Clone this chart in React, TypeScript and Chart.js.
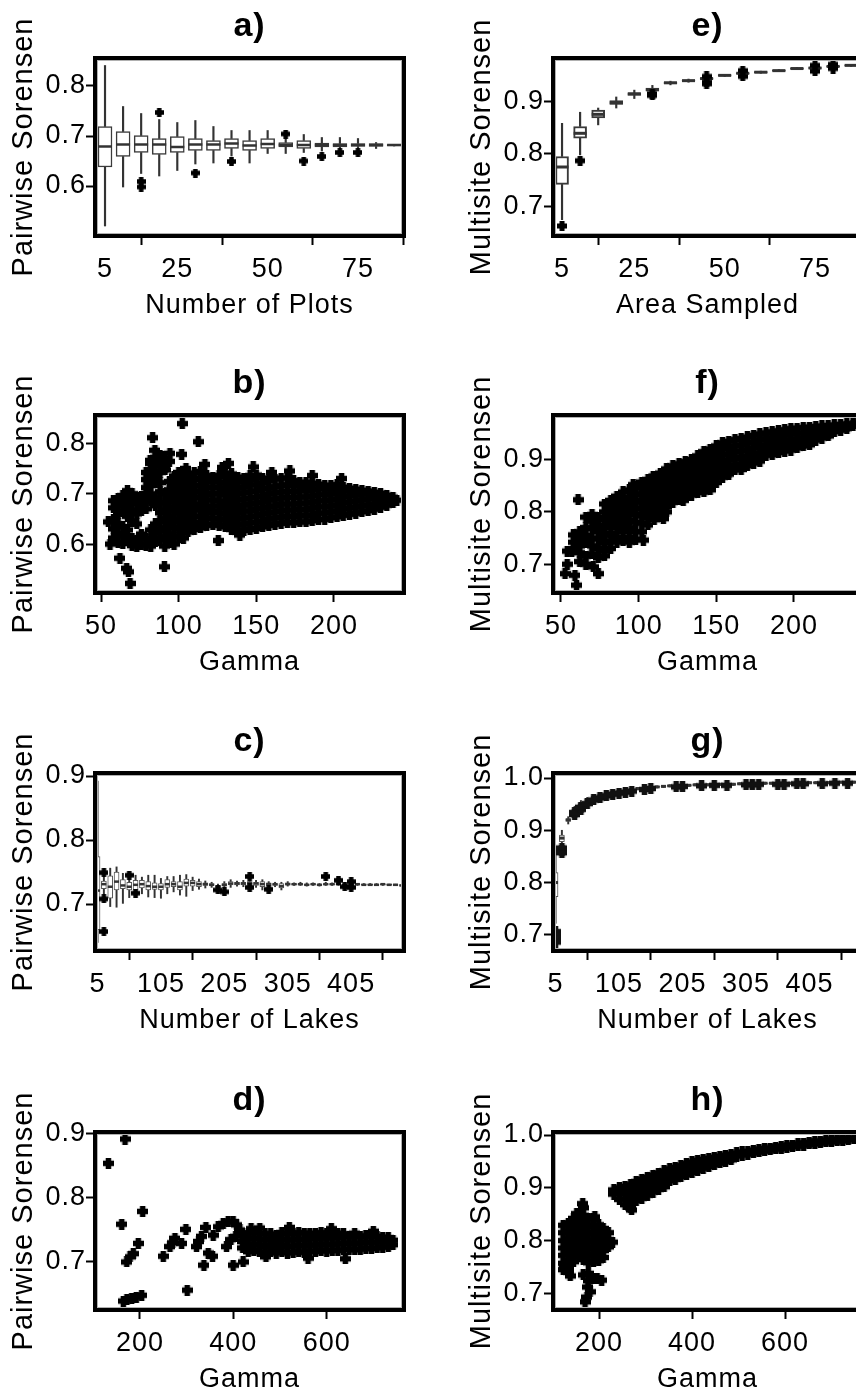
import React, { useEffect, useRef } from "react";
import { Chart, registerables } from "chart.js";
Chart.register(...registerables);

const FONT = "'Liberation Sans', Arial, Helvetica, sans-serif";
Chart.defaults.font.family = FONT;
Chart.defaults.color = "#000";

// ---------------- Tick labels ----------------
const ticksPlots = [5, 25, 50, 75];
const ticksGammaB = [50, 100, 150, 200];
const ticksLakes = [5, 105, 205, 305, 405];
const ticksGammaD = [200, 400, 600];
const ticksPairAB = [0.6, 0.7, 0.8];
const ticksPairCD = [0.7, 0.8, 0.9];
const ticksMultiEF = [0.7, 0.8, 0.9];
const ticksMultiGH = [0.7, 0.8, 0.9, 1.0];

// ---------------- a) Pairwise vs Number of Plots ----------------
const plotCounts = [5, 10, 15, 20, 25, 30, 35, 40, 45, 50, 55, 60, 65, 70, 75, 80, 85];
const aLow = [0.520, 0.598, 0.625, 0.620, 0.631, 0.644, 0.646, 0.660, 0.646, 0.665, 0.665, 0.667, 0.670, 0.673, 0.673, 0.675, 0.680];
const aQ1 = [0.638, 0.659, 0.667, 0.663, 0.667, 0.671, 0.671, 0.675, 0.671, 0.675, 0.678, 0.675, 0.678, 0.678, 0.679, 0.679, 0.680];
const aMed = [0.679, 0.683, 0.683, 0.683, 0.678, 0.683, 0.683, 0.685, 0.681, 0.684, 0.682, 0.682, 0.682, 0.682, 0.682, 0.682, 0.682];
const aQ3 = [0.719, 0.709, 0.701, 0.695, 0.699, 0.695, 0.691, 0.695, 0.691, 0.695, 0.687, 0.691, 0.686, 0.685, 0.685, 0.685, 0.683];
const aHigh = [0.841, 0.759, 0.745, 0.733, 0.727, 0.731, 0.719, 0.711, 0.711, 0.711, 0.699, 0.703, 0.697, 0.697, 0.695, 0.687, 0.683];
const aOutX = [15, 15, 20, 30, 40, 55, 60, 65, 70, 75];
const aOutY = [0.609, 0.598, 0.747, 0.626, 0.649, 0.704, 0.650, 0.659, 0.667, 0.667];

// ---------------- e) Multisite vs Area Sampled ----------------
const areaSampled = [5, 10, 15, 20, 25, 30, 35, 40, 45, 50, 55, 60, 65, 70, 75, 80, 85];
const eLow = [0.675, 0.798, 0.855, 0.887, 0.905, 0.916, 0.931, 0.936, 0.940, 0.947, 0.950, 0.953, 0.957, 0.960, 0.961, 0.964, 0.966];
const eQ1 = [0.742, 0.830, 0.868, 0.894, 0.911, 0.919, 0.933, 0.938, 0.942, 0.948, 0.952, 0.954, 0.957, 0.961, 0.962, 0.965, 0.967];
const eMed = [0.775, 0.839, 0.875, 0.897, 0.914, 0.922, 0.935, 0.939, 0.943, 0.949, 0.953, 0.955, 0.958, 0.962, 0.963, 0.966, 0.968];
const eQ3 = [0.795, 0.852, 0.883, 0.901, 0.916, 0.925, 0.936, 0.940, 0.944, 0.950, 0.954, 0.956, 0.959, 0.963, 0.964, 0.967, 0.969];
const eHigh = [0.858, 0.879, 0.887, 0.908, 0.921, 0.930, 0.938, 0.942, 0.946, 0.951, 0.955, 0.957, 0.960, 0.964, 0.965, 0.968, 0.970];
const eOutX = [5, 10, 30, 30, 45, 45, 45, 55, 55, 75, 75, 80, 80];
const eOutY = [0.663, 0.787, 0.914, 0.911, 0.947, 0.936, 0.933, 0.958, 0.947, 0.968, 0.957, 0.970, 0.962];

// ---------------- c) Pairwise vs Number of Lakes ----------------
const lakeCounts = [5, 15, 25, 35, 45, 55, 65, 75, 85, 95, 105, 115, 125, 135, 145, 155, 165, 175, 185, 195, 205, 215, 225, 235, 245, 255, 265, 275, 285, 295, 305, 315, 325, 335, 345, 355, 365, 375, 385, 395, 405, 415, 425, 435, 445, 455, 465, 475, 485];
const cLow = [0.640, 0.716, 0.696, 0.695, 0.701, 0.710, 0.712, 0.716, 0.711, 0.710, 0.709, 0.716, 0.719, 0.714, 0.712, 0.721, 0.723, 0.725, 0.726, 0.724, 0.725, 0.726, 0.728, 0.727, 0.728, 0.726, 0.722, 0.726, 0.727, 0.722, 0.728, 0.729, 0.729, 0.728, 0.729, 0.728, 0.729, 0.729, 0.729, 0.728, 0.728, 0.729, 0.729, 0.729, 0.729, 0.729, 0.729, 0.729, 0.728];
const cQ1 = [0.660, 0.724, 0.709, 0.722, 0.724, 0.722, 0.722, 0.725, 0.722, 0.723, 0.722, 0.726, 0.727, 0.722, 0.728, 0.728, 0.727, 0.729, 0.729, 0.726, 0.728, 0.730, 0.730, 0.730, 0.730, 0.729, 0.727, 0.729, 0.729, 0.725, 0.730, 0.730, 0.730, 0.729, 0.730, 0.729, 0.730, 0.730, 0.730, 0.729, 0.729, 0.730, 0.730, 0.730, 0.729, 0.730, 0.730, 0.729, 0.729];
const cMed = [0.721, 0.731, 0.727, 0.735, 0.729, 0.727, 0.730, 0.731, 0.728, 0.727, 0.727, 0.731, 0.731, 0.727, 0.733, 0.733, 0.731, 0.731, 0.730, 0.727, 0.730, 0.732, 0.732, 0.732, 0.733, 0.732, 0.731, 0.731, 0.731, 0.728, 0.731, 0.731, 0.731, 0.730, 0.731, 0.730, 0.731, 0.731, 0.731, 0.730, 0.730, 0.731, 0.730, 0.730, 0.730, 0.731, 0.730, 0.730, 0.729];
const cQ3 = [0.774, 0.736, 0.744, 0.750, 0.738, 0.734, 0.737, 0.737, 0.735, 0.733, 0.732, 0.738, 0.735, 0.735, 0.739, 0.737, 0.735, 0.733, 0.732, 0.729, 0.732, 0.735, 0.734, 0.734, 0.735, 0.734, 0.735, 0.733, 0.732, 0.732, 0.733, 0.732, 0.732, 0.731, 0.732, 0.731, 0.732, 0.732, 0.732, 0.731, 0.732, 0.731, 0.731, 0.731, 0.731, 0.731, 0.731, 0.731, 0.730];
const cHigh = [0.892, 0.742, 0.756, 0.758, 0.748, 0.740, 0.745, 0.742, 0.745, 0.745, 0.740, 0.743, 0.743, 0.745, 0.746, 0.742, 0.739, 0.736, 0.734, 0.731, 0.735, 0.738, 0.736, 0.737, 0.738, 0.737, 0.738, 0.735, 0.734, 0.734, 0.735, 0.733, 0.734, 0.733, 0.733, 0.732, 0.734, 0.733, 0.733, 0.732, 0.733, 0.732, 0.732, 0.732, 0.732, 0.732, 0.731, 0.731, 0.731];
const cOutX = [15, 15, 15, 55, 65, 195, 205, 245, 245, 275, 365, 385, 395, 405, 405];
const cOutY = [0.749, 0.708, 0.657, 0.745, 0.717, 0.722, 0.719, 0.743, 0.726, 0.723, 0.743, 0.737, 0.727, 0.735, 0.726];

// ---------------- g) Multisite vs Number of Lakes ----------------
const gLow = [0.722, 0.871, 0.912, 0.928, 0.941, 0.953, 0.958, 0.963, 0.966, 0.969, 0.971, 0.973, 0.975, 0.977, 0.978, 0.980, 0.981, 0.982, 0.983, 0.983, 0.984, 0.984, 0.985, 0.985, 0.985, 0.986, 0.986, 0.986, 0.986, 0.987, 0.987, 0.987, 0.987, 0.988, 0.988, 0.988, 0.988, 0.988, 0.989, 0.989, 0.989, 0.989, 0.989, 0.989, 0.990, 0.990, 0.990, 0.990, 0.990];
const gQ1 = [0.773, 0.878, 0.917, 0.933, 0.946, 0.956, 0.961, 0.965, 0.968, 0.971, 0.973, 0.975, 0.977, 0.979, 0.980, 0.981, 0.982, 0.983, 0.984, 0.984, 0.985, 0.985, 0.986, 0.986, 0.986, 0.987, 0.987, 0.987, 0.987, 0.988, 0.988, 0.988, 0.988, 0.989, 0.989, 0.989, 0.989, 0.989, 0.990, 0.990, 0.990, 0.990, 0.990, 0.990, 0.991, 0.991, 0.991, 0.991, 0.991];
const gMed = [0.800, 0.885, 0.920, 0.937, 0.950, 0.958, 0.963, 0.967, 0.970, 0.972, 0.974, 0.976, 0.978, 0.980, 0.981, 0.982, 0.983, 0.984, 0.985, 0.985, 0.986, 0.986, 0.987, 0.987, 0.987, 0.988, 0.988, 0.988, 0.988, 0.989, 0.989, 0.989, 0.989, 0.990, 0.990, 0.990, 0.990, 0.990, 0.991, 0.991, 0.991, 0.991, 0.991, 0.991, 0.992, 0.992, 0.992, 0.992, 0.992];
const gQ3 = [0.819, 0.891, 0.922, 0.941, 0.953, 0.960, 0.965, 0.968, 0.971, 0.973, 0.975, 0.977, 0.979, 0.981, 0.982, 0.983, 0.984, 0.985, 0.986, 0.986, 0.987, 0.987, 0.988, 0.988, 0.988, 0.989, 0.989, 0.989, 0.989, 0.990, 0.990, 0.990, 0.990, 0.991, 0.991, 0.991, 0.991, 0.991, 0.992, 0.992, 0.992, 0.992, 0.992, 0.992, 0.993, 0.993, 0.993, 0.993, 0.993];
const gHigh = [0.866, 0.900, 0.926, 0.946, 0.957, 0.963, 0.967, 0.970, 0.973, 0.975, 0.977, 0.978, 0.980, 0.982, 0.983, 0.984, 0.985, 0.986, 0.987, 0.987, 0.988, 0.988, 0.989, 0.989, 0.989, 0.990, 0.990, 0.990, 0.990, 0.991, 0.991, 0.991, 0.991, 0.992, 0.992, 0.992, 0.992, 0.992, 0.993, 0.993, 0.993, 0.993, 0.993, 0.993, 0.994, 0.994, 0.994, 0.994, 0.994];
const gOutX = [5, 5, 5, 5, 15, 15, 15, 35, 35, 45, 45, 55, 65, 75, 85, 95, 105, 115, 125, 145, 155, 195, 205, 235, 255, 275, 305, 315, 325, 355, 365, 385, 395, 425, 445, 465];
const gOutY = [0.706, 0.700, 0.693, 0.686, 0.866, 0.861, 0.857, 0.930, 0.934, 0.940, 0.944, 0.951, 0.958, 0.962, 0.966, 0.969, 0.971, 0.973, 0.975, 0.978, 0.980, 0.983, 0.984, 0.985, 0.986, 0.986, 0.987, 0.987, 0.988, 0.988, 0.988, 0.989, 0.989, 0.989, 0.990, 0.990];

// ---------------- b) Pairwise vs Gamma (plots) ----------------
const bLoneX = [54.7, 55.8, 62.2, 66.5, 67.6, 68.7, 90.8, 102.3, 112.6, 83.2, 84.7, 125.5, 139.4, 204.9, 171.6, 132.0, 148.0, 101.9, 89.0, 94.4, 81.6, 91.2, 104.7, 116.9, 128.0, 160.0, 186.0];
const bLoneY = [0.644, 0.600, 0.572, 0.552, 0.545, 0.522, 0.555, 0.839, 0.803, 0.811, 0.786, 0.607, 0.618, 0.730, 0.745, 0.760, 0.753, 0.778, 0.774, 0.780, 0.766, 0.747, 0.750, 0.758, 0.752, 0.742, 0.736];
const bCols: [number, number[]][] = [
  [58, [0.686, 0.672, 0.648, 0.630, 0.612]],
  [61, [0.690, 0.676, 0.660, 0.640, 0.622, 0.603]],
  [64, [0.696, 0.682, 0.664, 0.634, 0.616, 0.601]],
  [67, [0.706, 0.690, 0.675, 0.655, 0.628, 0.610]],
  [70, [0.700, 0.686, 0.668, 0.645, 0.612, 0.597]],
  [73, [0.692, 0.680, 0.660, 0.640, 0.607, 0.596]],
  [76, [0.694, 0.683, 0.667, 0.620, 0.600]],
  [79, [0.742, 0.728, 0.712, 0.698, 0.684, 0.670, 0.612, 0.598]],
  [82, [0.760, 0.745, 0.730, 0.716, 0.700, 0.686, 0.628, 0.610, 0.596]],
  [85, [0.772, 0.755, 0.738, 0.722, 0.692, 0.676, 0.640, 0.622, 0.606]],
  [88, [0.776, 0.760, 0.742, 0.722, 0.704, 0.682, 0.662, 0.645, 0.626, 0.608]],
  [91, [0.770, 0.752, 0.700, 0.684, 0.668, 0.650, 0.632, 0.615, 0.596]],
  [94, [0.764, 0.724, 0.708, 0.690, 0.672, 0.655, 0.638, 0.620, 0.603]],
  [97, [0.735, 0.718, 0.700, 0.684, 0.668, 0.650, 0.633, 0.615, 0.600]],
  [100, [0.742, 0.726, 0.710, 0.694, 0.678, 0.662, 0.646, 0.630, 0.614]],
  [103, [0.738, 0.724, 0.708, 0.692, 0.676, 0.660, 0.644, 0.628, 0.612]],
  [106, [0.624, 0.637, 0.648, 0.661, 0.674, 0.685, 0.698, 0.711, 0.722, 0.736]],
  [110, [0.629, 0.640, 0.654, 0.667, 0.678, 0.691, 0.703, 0.716, 0.728, 0.741]],
  [114, [0.632, 0.643, 0.656, 0.669, 0.680, 0.694, 0.706, 0.717, 0.731, 0.744]],
  [118, [0.637, 0.650, 0.661, 0.673, 0.687, 0.698, 0.711, 0.723, 0.736]],
  [122, [0.639, 0.651, 0.665, 0.676, 0.688, 0.701, 0.713, 0.726, 0.733]],
  [126, [0.637, 0.649, 0.662, 0.675, 0.686, 0.699, 0.712, 0.723, 0.736]],
  [130, [0.634, 0.647, 0.659, 0.671, 0.684, 0.697, 0.708, 0.721, 0.733, 0.741]],
  [134, [0.629, 0.641, 0.655, 0.666, 0.679, 0.692, 0.703, 0.716, 0.729, 0.739]],
  [138, [0.624, 0.637, 0.649, 0.661, 0.674, 0.687, 0.699, 0.711, 0.724, 0.733]],
  [142, [0.627, 0.639, 0.652, 0.665, 0.677, 0.689, 0.702, 0.714, 0.726, 0.731]],
  [146, [0.629, 0.642, 0.654, 0.666, 0.679, 0.691, 0.704, 0.717, 0.728, 0.736]],
  [150, [0.631, 0.643, 0.656, 0.669, 0.681, 0.693, 0.706, 0.718, 0.731, 0.737]],
  [154, [0.634, 0.646, 0.659, 0.671, 0.683, 0.696, 0.709, 0.721, 0.731]],
  [158, [0.637, 0.649, 0.662, 0.674, 0.687, 0.699, 0.711, 0.726]],
  [162, [0.639, 0.652, 0.664, 0.676, 0.689, 0.702, 0.714, 0.729]],
  [166, [0.641, 0.653, 0.666, 0.679, 0.691, 0.703, 0.716, 0.731]],
  [170, [0.643, 0.656, 0.668, 0.680, 0.693, 0.705, 0.718, 0.731]],
  [174, [0.642, 0.654, 0.667, 0.679, 0.692, 0.704, 0.716, 0.726]],
  [178, [0.644, 0.657, 0.669, 0.681, 0.694, 0.706, 0.716, 0.722]],
  [182, [0.644, 0.656, 0.668, 0.681, 0.693, 0.706, 0.716, 0.723]],
  [186, [0.646, 0.658, 0.671, 0.683, 0.696, 0.708, 0.721]],
  [190, [0.649, 0.661, 0.674, 0.686, 0.698, 0.710, 0.719]],
  [194, [0.649, 0.662, 0.674, 0.686, 0.698, 0.709, 0.717]],
  [198, [0.652, 0.664, 0.676, 0.688, 0.700, 0.710, 0.716]],
  [202, [0.654, 0.666, 0.678, 0.690, 0.702, 0.712, 0.718]],
  [206, [0.657, 0.669, 0.681, 0.693, 0.705, 0.713]],
  [210, [0.659, 0.671, 0.683, 0.695, 0.705, 0.711]],
  [214, [0.661, 0.673, 0.685, 0.697, 0.709]],
  [218, [0.664, 0.676, 0.688, 0.699, 0.707]],
  [222, [0.666, 0.678, 0.690, 0.700, 0.705]],
  [226, [0.669, 0.680, 0.691, 0.703]],
  [230, [0.673, 0.684, 0.694, 0.701]],
  [234, [0.677, 0.687, 0.697]],
  [238, [0.683, 0.693]],
  [240.5, [0.687]],
];

// ---------------- f) Multisite vs Gamma (plots) ----------------
const fLoneX = [52.6, 59.0, 60.0, 56.9, 61.0, 70.8, 74.0, 96.5, 109.4, 103.0, 115.9, 128.7];
const fLoneY = [0.682, 0.679, 0.660, 0.724, 0.823, 0.695, 0.682, 0.852, 0.868, 0.746, 0.787, 0.822];
const fCols: [number, number[]][] = [
  [54, [0.725, 0.700]],
  [58, [0.756, 0.742, 0.728]],
  [62, [0.762, 0.748, 0.735, 0.722, 0.705]],
  [66, [0.790, 0.770, 0.755, 0.742, 0.715, 0.700]],
  [70, [0.795, 0.782, 0.768, 0.750, 0.735, 0.720]],
  [74, [0.790, 0.775, 0.762, 0.748, 0.730, 0.712]],
  [78, [0.815, 0.800, 0.785, 0.770, 0.755, 0.740, 0.725, 0.716]],
  [82, [0.822, 0.808, 0.792, 0.778, 0.760, 0.745, 0.730]],
  [86, [0.830, 0.816, 0.800, 0.785, 0.770, 0.752, 0.742]],
  [90, [0.838, 0.823, 0.808, 0.792, 0.778, 0.762, 0.745]],
  [94, [0.842, 0.828, 0.815, 0.800, 0.785, 0.770, 0.752, 0.742]],
  [98, [0.848, 0.835, 0.822, 0.808, 0.795, 0.780, 0.762, 0.748]],
  [102, [0.857, 0.845, 0.832, 0.818, 0.805, 0.792, 0.778, 0.762]],
  [106, [0.862, 0.850, 0.838, 0.826, 0.814, 0.800, 0.788, 0.775]],
  [110, [0.868, 0.856, 0.844, 0.832, 0.820, 0.808, 0.795, 0.785]],
  [114, [0.874, 0.862, 0.850, 0.838, 0.826, 0.814, 0.802, 0.792]],
  [118, [0.882, 0.870, 0.858, 0.846, 0.834, 0.822, 0.810, 0.800]],
  [122, [0.888, 0.876, 0.864, 0.852, 0.840, 0.828, 0.818]],
  [126, [0.892, 0.880, 0.868, 0.856, 0.844, 0.832, 0.824]],
  [130, [0.896, 0.884, 0.872, 0.860, 0.848, 0.837, 0.830]],
  [134, [0.900, 0.888, 0.876, 0.864, 0.852, 0.840, 0.832]],
  [138, [0.907, 0.895, 0.883, 0.871, 0.859, 0.847, 0.837]],
  [142, [0.915, 0.903, 0.891, 0.879, 0.867, 0.855, 0.843, 0.838]],
  [146, [0.920, 0.908, 0.896, 0.884, 0.872, 0.860, 0.848, 0.842]],
  [150, [0.926, 0.914, 0.902, 0.890, 0.878, 0.866, 0.856]],
  [154, [0.932, 0.920, 0.908, 0.896, 0.884, 0.872, 0.866]],
  [158, [0.935, 0.923, 0.911, 0.899, 0.887, 0.876, 0.872]],
  [162, [0.938, 0.926, 0.914, 0.902, 0.890, 0.880]],
  [166, [0.940, 0.928, 0.916, 0.904, 0.892, 0.881]],
  [170, [0.943, 0.931, 0.919, 0.907, 0.896, 0.888]],
  [174, [0.946, 0.934, 0.922, 0.910, 0.900, 0.893]],
  [178, [0.949, 0.937, 0.925, 0.913, 0.904, 0.897]],
  [182, [0.951, 0.940, 0.928, 0.917, 0.908]],
  [186, [0.953, 0.942, 0.931, 0.920, 0.909]],
  [190, [0.955, 0.944, 0.933, 0.923, 0.913]],
  [194, [0.957, 0.946, 0.935, 0.925, 0.916]],
  [198, [0.959, 0.948, 0.937, 0.927, 0.918]],
  [202, [0.960, 0.950, 0.939, 0.929, 0.922]],
  [206, [0.961, 0.951, 0.941, 0.931, 0.926]],
  [210, [0.962, 0.952, 0.943, 0.934, 0.928]],
  [214, [0.963, 0.954, 0.945, 0.937]],
  [218, [0.964, 0.955, 0.947, 0.941]],
  [222, [0.965, 0.957, 0.950, 0.945]],
  [226, [0.966, 0.959, 0.953]],
  [230, [0.967, 0.961, 0.956]],
  [234, [0.968, 0.963, 0.959]],
  [238, [0.968, 0.965]],
  [241, [0.968]],
];

// ---------------- d) Pairwise vs Gamma (lakes) ----------------
const dLoneX = [132.3, 167.9, 160.8, 205.7, 171.5, 178.6, 185.7, 196.4, 164.3, 172.0, 182.2, 192.0, 203.6, 249.9, 264.2, 270.0, 274.9, 289.1, 298.4, 301.2, 321.2, 326.0, 331.9, 341.2, 336.9, 346.2, 355.4, 356.9, 367.6, 378.3, 389.0, 399.6, 406.8, 385.4, 399.6, 421.0, 413.9, 421.0, 456.7, 395.0, 405.0, 438.0, 470.0, 520.0, 560.0, 610.0, 640.0, 700.0];
const dLoneY = [0.854, 0.892, 0.759, 0.779, 0.700, 0.708, 0.713, 0.729, 0.639, 0.641, 0.643, 0.645, 0.648, 0.709, 0.724, 0.730, 0.737, 0.729, 0.751, 0.656, 0.724, 0.732, 0.740, 0.754, 0.695, 0.714, 0.709, 0.742, 0.755, 0.760, 0.763, 0.763, 0.758, 0.724, 0.695, 0.700, 0.750, 0.742, 0.753, 0.735, 0.740, 0.752, 0.708, 0.754, 0.706, 0.752, 0.705, 0.748];
const dCols: [number, number[]][] = [
  [420, [0.722, 0.732, 0.742]],
  [432, [0.716, 0.726, 0.736, 0.745]],
  [444, [0.718, 0.728, 0.738]],
  [456, [0.716, 0.726, 0.736, 0.745]],
  [468, [0.714, 0.724, 0.734, 0.744]],
  [480, [0.716, 0.726, 0.736, 0.744]],
  [492, [0.714, 0.723, 0.733, 0.742]],
  [504, [0.716, 0.726, 0.736, 0.746]],
  [516, [0.714, 0.724, 0.734, 0.744]],
  [528, [0.715, 0.725, 0.735, 0.744]],
  [540, [0.716, 0.726, 0.736, 0.746]],
  [552, [0.715, 0.725, 0.735, 0.745]],
  [564, [0.717, 0.727, 0.737, 0.745]],
  [576, [0.716, 0.726, 0.736, 0.744]],
  [588, [0.718, 0.728, 0.738, 0.746]],
  [600, [0.717, 0.727, 0.737, 0.744]],
  [612, [0.718, 0.728, 0.738, 0.746]],
  [624, [0.718, 0.728, 0.738, 0.745]],
  [636, [0.719, 0.729, 0.739, 0.744]],
  [648, [0.720, 0.730, 0.740]],
  [660, [0.719, 0.729, 0.739, 0.745]],
  [672, [0.720, 0.730, 0.740]],
  [684, [0.721, 0.731, 0.741]],
  [696, [0.721, 0.731, 0.740]],
  [708, [0.722, 0.731, 0.740]],
  [720, [0.723, 0.732, 0.739]],
  [732, [0.724, 0.732, 0.738]],
  [742, [0.727, 0.734]],
];

// ---------------- h) Multisite vs Gamma (lakes) ----------------
const hLoneX = [169.9, 174.0, 180.6, 176.0, 205.7, 196.0, 152.0, 164.9, 191.0, 130.0, 138.0, 125.0, 270.0];
const hLoneY = [0.684, 0.693, 0.703, 0.712, 0.725, 0.728, 0.851, 0.870, 0.845, 0.745, 0.733, 0.752, 0.858];
const hCols: [number, number[]][] = [
  [123, [0.829, 0.815, 0.800, 0.786, 0.772, 0.757, 0.745]],
  [134, [0.833, 0.818, 0.803, 0.790, 0.776, 0.762, 0.748, 0.740]],
  [145, [0.842, 0.828, 0.814, 0.800, 0.785, 0.770, 0.760]],
  [156, [0.849, 0.835, 0.821, 0.807, 0.793, 0.779, 0.770]],
  [166, [0.862, 0.848, 0.834, 0.820, 0.806, 0.792, 0.778, 0.764, 0.735]],
  [177, [0.842, 0.828, 0.814, 0.800, 0.786, 0.772, 0.758, 0.738, 0.724]],
  [188, [0.842, 0.828, 0.814, 0.800, 0.786, 0.772, 0.760, 0.728]],
  [199, [0.830, 0.816, 0.802, 0.788, 0.774, 0.762]],
  [209, [0.823, 0.809, 0.795, 0.781, 0.768]],
  [220, [0.815, 0.802, 0.788]],
  [229, [0.797]],
  [232, [0.896, 0.888]],
  [244, [0.900, 0.889, 0.878]],
  [256, [0.903, 0.891, 0.879, 0.868]],
  [268, [0.906, 0.894, 0.882, 0.870, 0.862]],
  [280, [0.912, 0.900, 0.888, 0.876]],
  [292, [0.916, 0.904, 0.892, 0.880]],
  [304, [0.920, 0.908, 0.896, 0.886]],
  [316, [0.924, 0.912, 0.900, 0.892]],
  [328, [0.928, 0.916, 0.905, 0.897]],
  [340, [0.932, 0.920, 0.909, 0.902]],
  [352, [0.936, 0.924, 0.913]],
  [364, [0.939, 0.927, 0.916]],
  [376, [0.942, 0.931, 0.921]],
  [388, [0.946, 0.935, 0.925]],
  [400, [0.949, 0.938, 0.929]],
  [412, [0.952, 0.942, 0.933]],
  [424, [0.954, 0.945, 0.937]],
  [436, [0.956, 0.947, 0.940]],
  [448, [0.958, 0.950, 0.944]],
  [460, [0.960, 0.952, 0.947]],
  [472, [0.962, 0.955, 0.950]],
  [484, [0.964, 0.957, 0.953]],
  [496, [0.966, 0.960]],
  [508, [0.968, 0.962]],
  [520, [0.969, 0.964]],
  [532, [0.971, 0.966]],
  [544, [0.972, 0.968]],
  [556, [0.974, 0.970]],
  [568, [0.975, 0.972]],
  [580, [0.977, 0.974]],
  [592, [0.978, 0.975]],
  [604, [0.980, 0.977]],
  [616, [0.981, 0.978]],
  [628, [0.983, 0.980]],
  [640, [0.984, 0.981]],
  [652, [0.986, 0.983]],
  [664, [0.987, 0.984]],
  [676, [0.988, 0.986]],
  [688, [0.990, 0.987]],
  [700, [0.991, 0.988]],
  [712, [0.992, 0.989]],
  [724, [0.993, 0.990]],
  [736, [0.994, 0.991]],
  [748, [0.994]],
];

// ---------------- layout ----------------
const AXIS_W = 95;
const TOP_PAD = 57;
const AXIS_H = 95;
const PLOT_W = 309;
const PLOT_H = 178;
const CANVAS_W = AXIS_W + PLOT_W + 30;
const CANVAS_H = TOP_PAD + PLOT_H + AXIS_H;

function makeMarker(size: number, color = "#000") {
  const c = document.createElement("canvas");
  c.width = size;
  c.height = size;
  const g = c.getContext("2d")!;
  const h = size / 2;
  g.fillStyle = color;
  const d = size * 0.44;
  g.beginPath();
  g.moveTo(h, h - d);
  g.lineTo(h + d, h);
  g.lineTo(h, h + d);
  g.lineTo(h - d, h);
  g.closePath();
  g.fill();
  const a = size * 0.25;
  g.fillRect(h - a, 0, 2 * a, size);
  g.fillRect(0, h - a, size, 2 * a);
  return c;
}

const spacingPlugin = {
  id: "spacing",
  beforeDraw(chart: any) {
    chart.ctx.letterSpacing = "1px";
  },
};

const framePlugin = {
  id: "frame",
  afterDatasetsDraw(chart: any) {
    const { ctx, chartArea } = chart;
    const { left, top, right, bottom } = chartArea;
    ctx.save();
    ctx.strokeStyle = "#b0b0b0";
    ctx.lineWidth = 1;
    ctx.strokeRect(left + 2.5, top + 2.5, right - left - 5, bottom - top - 5);
    ctx.strokeStyle = "#000";
    ctx.lineWidth = 4;
    ctx.strokeRect(left, top, right - left, bottom - top);
    ctx.restore();
  },
};

const titlePlugin = {
  id: "panelTitle",
  afterDraw(chart: any, _args: any, opts: any) {
    const { ctx, chartArea } = chart;
    ctx.save();
    ctx.letterSpacing = "1px";
    ctx.font = `bold 34px ${FONT}`;
    ctx.fillStyle = "#000";
    ctx.textAlign = "center";
    ctx.textBaseline = "middle";
    ctx.fillText(opts.text, (chartArea.left + chartArea.right) / 2, chartArea.top - 31);
    ctx.restore();
  },
};

type BoxOpts = { box: number; whisker: number; bw: number; mw: number; edge: string; marker: any };

function boxSets(x: number[], lo: number[], q1: number[], med: number[], q3: number[], hi: number[], outX: number[], outY: number[], o: BoxOpts) {
  return [
    {
      type: "bar",
      order: 4,
      grouped: false,
      barThickness: o.whisker,
      backgroundColor: "#333",
      borderWidth: 0,
      data: x.flatMap((v, i) => [
        { x: v, y: [lo[i], q1[i]] },
        { x: v, y: [q3[i], hi[i]] },
      ]),
    },
    {
      type: "bar",
      order: 3,
      grouped: false,
      barThickness: o.box,
      backgroundColor: "#fff",
      borderColor: o.edge,
      borderWidth: o.bw,
      borderSkipped: false,
      data: x.map((v, i) => ({ x: v, y: [q1[i], q3[i]] })),
    },
    {
      type: "scatter",
      order: 2,
      pointStyle: "line",
      pointRadius: o.box / 2,
      pointBorderWidth: o.mw,
      pointBorderColor: "#333",
      borderColor: "#333",
      data: x.map((v, i) => ({ x: v, y: med[i] })),
    },
    {
      type: "scatter",
      order: 1,
      pointStyle: o.marker,
      pointRadius: 5,
      data: outX.map((v, i) => ({ x: v, y: outY[i] })),
    },
  ];
}

function scatterSets(cols: [number, number[]][], loneX: number[], loneY: number[], marker: any) {
  const pts = cols.flatMap(([g, vs]) => vs.map((v) => ({ x: g, y: v })));
  loneX.forEach((g, i) => pts.push({ x: g, y: loneY[i] }));
  return [{ type: "scatter", pointStyle: marker, pointRadius: 5, data: pts }];
}

type Spec = {
  key: string;
  title: string;
  xTitle: string;
  yTitle: string;
  xMin: number;
  xMax: number;
  yMin: number;
  yMax: number;
  xTicks: number[];
  yTicks: number[];
  build: () => any[];
};

function makeConfig(s: Spec) {
  const tickFont = { size: 27, family: FONT };
  return {
    type: "scatter",
    data: { datasets: s.build() },
    options: {
      animation: false,
      responsive: false,
      devicePixelRatio: 1,
      events: [],
      layout: { padding: { left: 0, top: TOP_PAD, right: CANVAS_W - AXIS_W - PLOT_W, bottom: 0 } },
      plugins: { legend: { display: false }, tooltip: { enabled: false }, panelTitle: { text: s.title } },
      scales: {
        x: {
          type: "linear",
          min: s.xMin,
          max: s.xMax,
          offset: false,
          afterFit: (sc: any) => {
            sc.height = AXIS_H;
          },
          afterBuildTicks: (sc: any) => {
            sc.ticks = s.xTicks.map((v) => ({ value: v }));
          },
          grid: { drawOnChartArea: false, drawTicks: true, tickLength: 9, tickWidth: 2, tickColor: "#000", color: "#000" },
          border: { display: false },
          ticks: { autoSkip: false, maxRotation: 0, color: "#000", font: tickFont, padding: 8, callback: (v: any) => String(v) },
          title: { display: true, text: s.xTitle, color: "#000", font: { size: 27, family: FONT }, padding: { top: 0, bottom: 9 } },
        },
        y: {
          type: "linear",
          min: s.yMin,
          max: s.yMax,
          afterFit: (sc: any) => {
            sc.width = AXIS_W;
          },
          afterBuildTicks: (sc: any) => {
            sc.ticks = s.yTicks.map((v) => ({ value: v }));
          },
          grid: { drawOnChartArea: false, drawTicks: true, tickLength: 9, tickWidth: 2, tickColor: "#000", color: "#000" },
          border: { display: false },
          ticks: { autoSkip: false, color: "#000", font: tickFont, padding: 0, callback: (v: any) => Number(v).toFixed(1) },
          title: { display: true, text: s.yTitle, color: "#000", font: { size: 29, family: FONT }, padding: { top: 7, bottom: 0 } },
        },
      },
    },
    plugins: [spacingPlugin, framePlugin, titlePlugin],
  };
}

const L1 = 95;
const L2 = 553;
const ROW_TOPS = [58, 415, 773, 1132];

const PANELS = [
  { key: "a", left: L1, top: ROW_TOPS[0] },
  { key: "e", left: L2, top: ROW_TOPS[0] },
  { key: "b", left: L1, top: ROW_TOPS[1] },
  { key: "f", left: L2, top: ROW_TOPS[1] },
  { key: "c", left: L1, top: ROW_TOPS[2] },
  { key: "g", left: L2, top: ROW_TOPS[2] },
  { key: "d", left: L1, top: ROW_TOPS[3] },
  { key: "h", left: L2, top: ROW_TOPS[3] },
];

function buildSpecs(): Spec[] {
  const mSmall = makeMarker(9);
  const mMid = makeMarker(10);
  const mBig = makeMarker(11);
  const mDark = makeMarker(11, "#111");
  return [
    {
      key: "a", title: "a)", xTitle: "Number of Plots", yTitle: "Pairwise Sorensen",
      xMin: 2.23, xMax: 87.73, yMin: 0.5, yMax: 0.856, xTicks: ticksPlots, yTicks: ticksPairAB,
      build: () => boxSets(plotCounts, aLow, aQ1, aMed, aQ3, aHigh, aOutX, aOutY, { box: 14, whisker: 1.5, bw: 1.5, mw: 2.5, edge: "#3a3a3a", marker: mSmall }),
    },
    {
      key: "e", title: "e)", xTitle: "Area Sampled", yTitle: "Multisite Sorensen",
      xMin: 2.5, xMax: 88.0, yMin: 0.644, yMax: 0.982, xTicks: ticksPlots, yTicks: ticksMultiEF,
      build: () => boxSets(areaSampled, eLow, eQ1, eMed, eQ3, eHigh, eOutX, eOutY, { box: 13, whisker: 1.5, bw: 2, mw: 3, edge: "#3a3a3a", marker: mMid }),
    },
    {
      key: "b", title: "b)", xTitle: "Gamma", yTitle: "Pairwise Sorensen",
      xMin: 46.1, xMax: 245.1, yMin: 0.503, yMax: 0.856, xTicks: ticksGammaB, yTicks: ticksPairAB,
      build: () => scatterSets(bCols, bLoneX, bLoneY, mBig),
    },
    {
      key: "f", title: "f)", xTitle: "Gamma", yTitle: "Multisite Sorensen",
      xMin: 44.85, xMax: 243.8, yMin: 0.645, yMax: 0.985, xTicks: ticksGammaB, yTicks: ticksMultiEF,
      build: () => scatterSets(fCols, fLoneX, fLoneY, mBig),
    },
    {
      key: "c", title: "c)", xTitle: "Number of Lakes", yTitle: "Pairwise Sorensen",
      xMin: 1.0, xMax: 488.4, yMin: 0.6266, yMax: 0.9047, xTicks: ticksLakes, yTicks: ticksPairCD,
      build: () => boxSets(lakeCounts, cLow, cQ1, cMed, cQ3, cHigh, cOutX, cOutY, { box: 5, whisker: 1.3, bw: 1, mw: 2.5, edge: "#555", marker: mSmall }),
    },
    {
      key: "g", title: "g)", xTitle: "Number of Lakes", yTitle: "Multisite Sorensen",
      xMin: 1.0, xMax: 487.7, yMin: 0.669, yMax: 1.0096, xTicks: ticksLakes, yTicks: ticksMultiGH,
      build: () => boxSets(lakeCounts, gLow, gQ1, gMed, gQ3, gHigh, gOutX, gOutY, { box: 5, whisker: 1.3, bw: 1, mw: 3, edge: "#555", marker: mDark }),
    },
    {
      key: "d", title: "d)", xTitle: "Gamma", yTitle: "Pairwise Sorensen",
      xMin: 103.6, xMax: 765.7, yMin: 0.625, yMax: 0.903, xTicks: ticksGammaD, yTicks: ticksPairCD,
      build: () => scatterSets(dCols, dLoneX, dLoneY, mBig),
    },
    {
      key: "h", title: "h)", xTitle: "Gamma", yTitle: "Multisite Sorensen",
      xMin: 101, xMax: 765.6, yMin: 0.6685, yMax: 1.0057, xTicks: ticksGammaD, yTicks: ticksMultiGH,
      build: () => scatterSets(hCols, hLoneX, hLoneY, mBig),
    },
  ];
}

export default function App() {
  const refs = useRef<Record<string, HTMLCanvasElement | null>>({});
  useEffect(() => {
    const specs = buildSpecs();
    const charts = specs.map((s) => new Chart(refs.current[s.key]!, makeConfig(s) as any));
    return () => charts.forEach((c) => c.destroy());
  }, []);
  return (
    <div style={{ position: "fixed", left: 0, top: 0, width: 856, height: 1397, overflow: "hidden", background: "#fff" }}>
      {PANELS.map((p) => (
        <canvas
          key={p.key}
          ref={(el) => {
            refs.current[p.key] = el;
          }}
          width={CANVAS_W}
          height={CANVAS_H}
          style={{ position: "absolute", left: p.left - AXIS_W, top: p.top - TOP_PAD, width: CANVAS_W, height: CANVAS_H }}
        />
      ))}
    </div>
  );
}
